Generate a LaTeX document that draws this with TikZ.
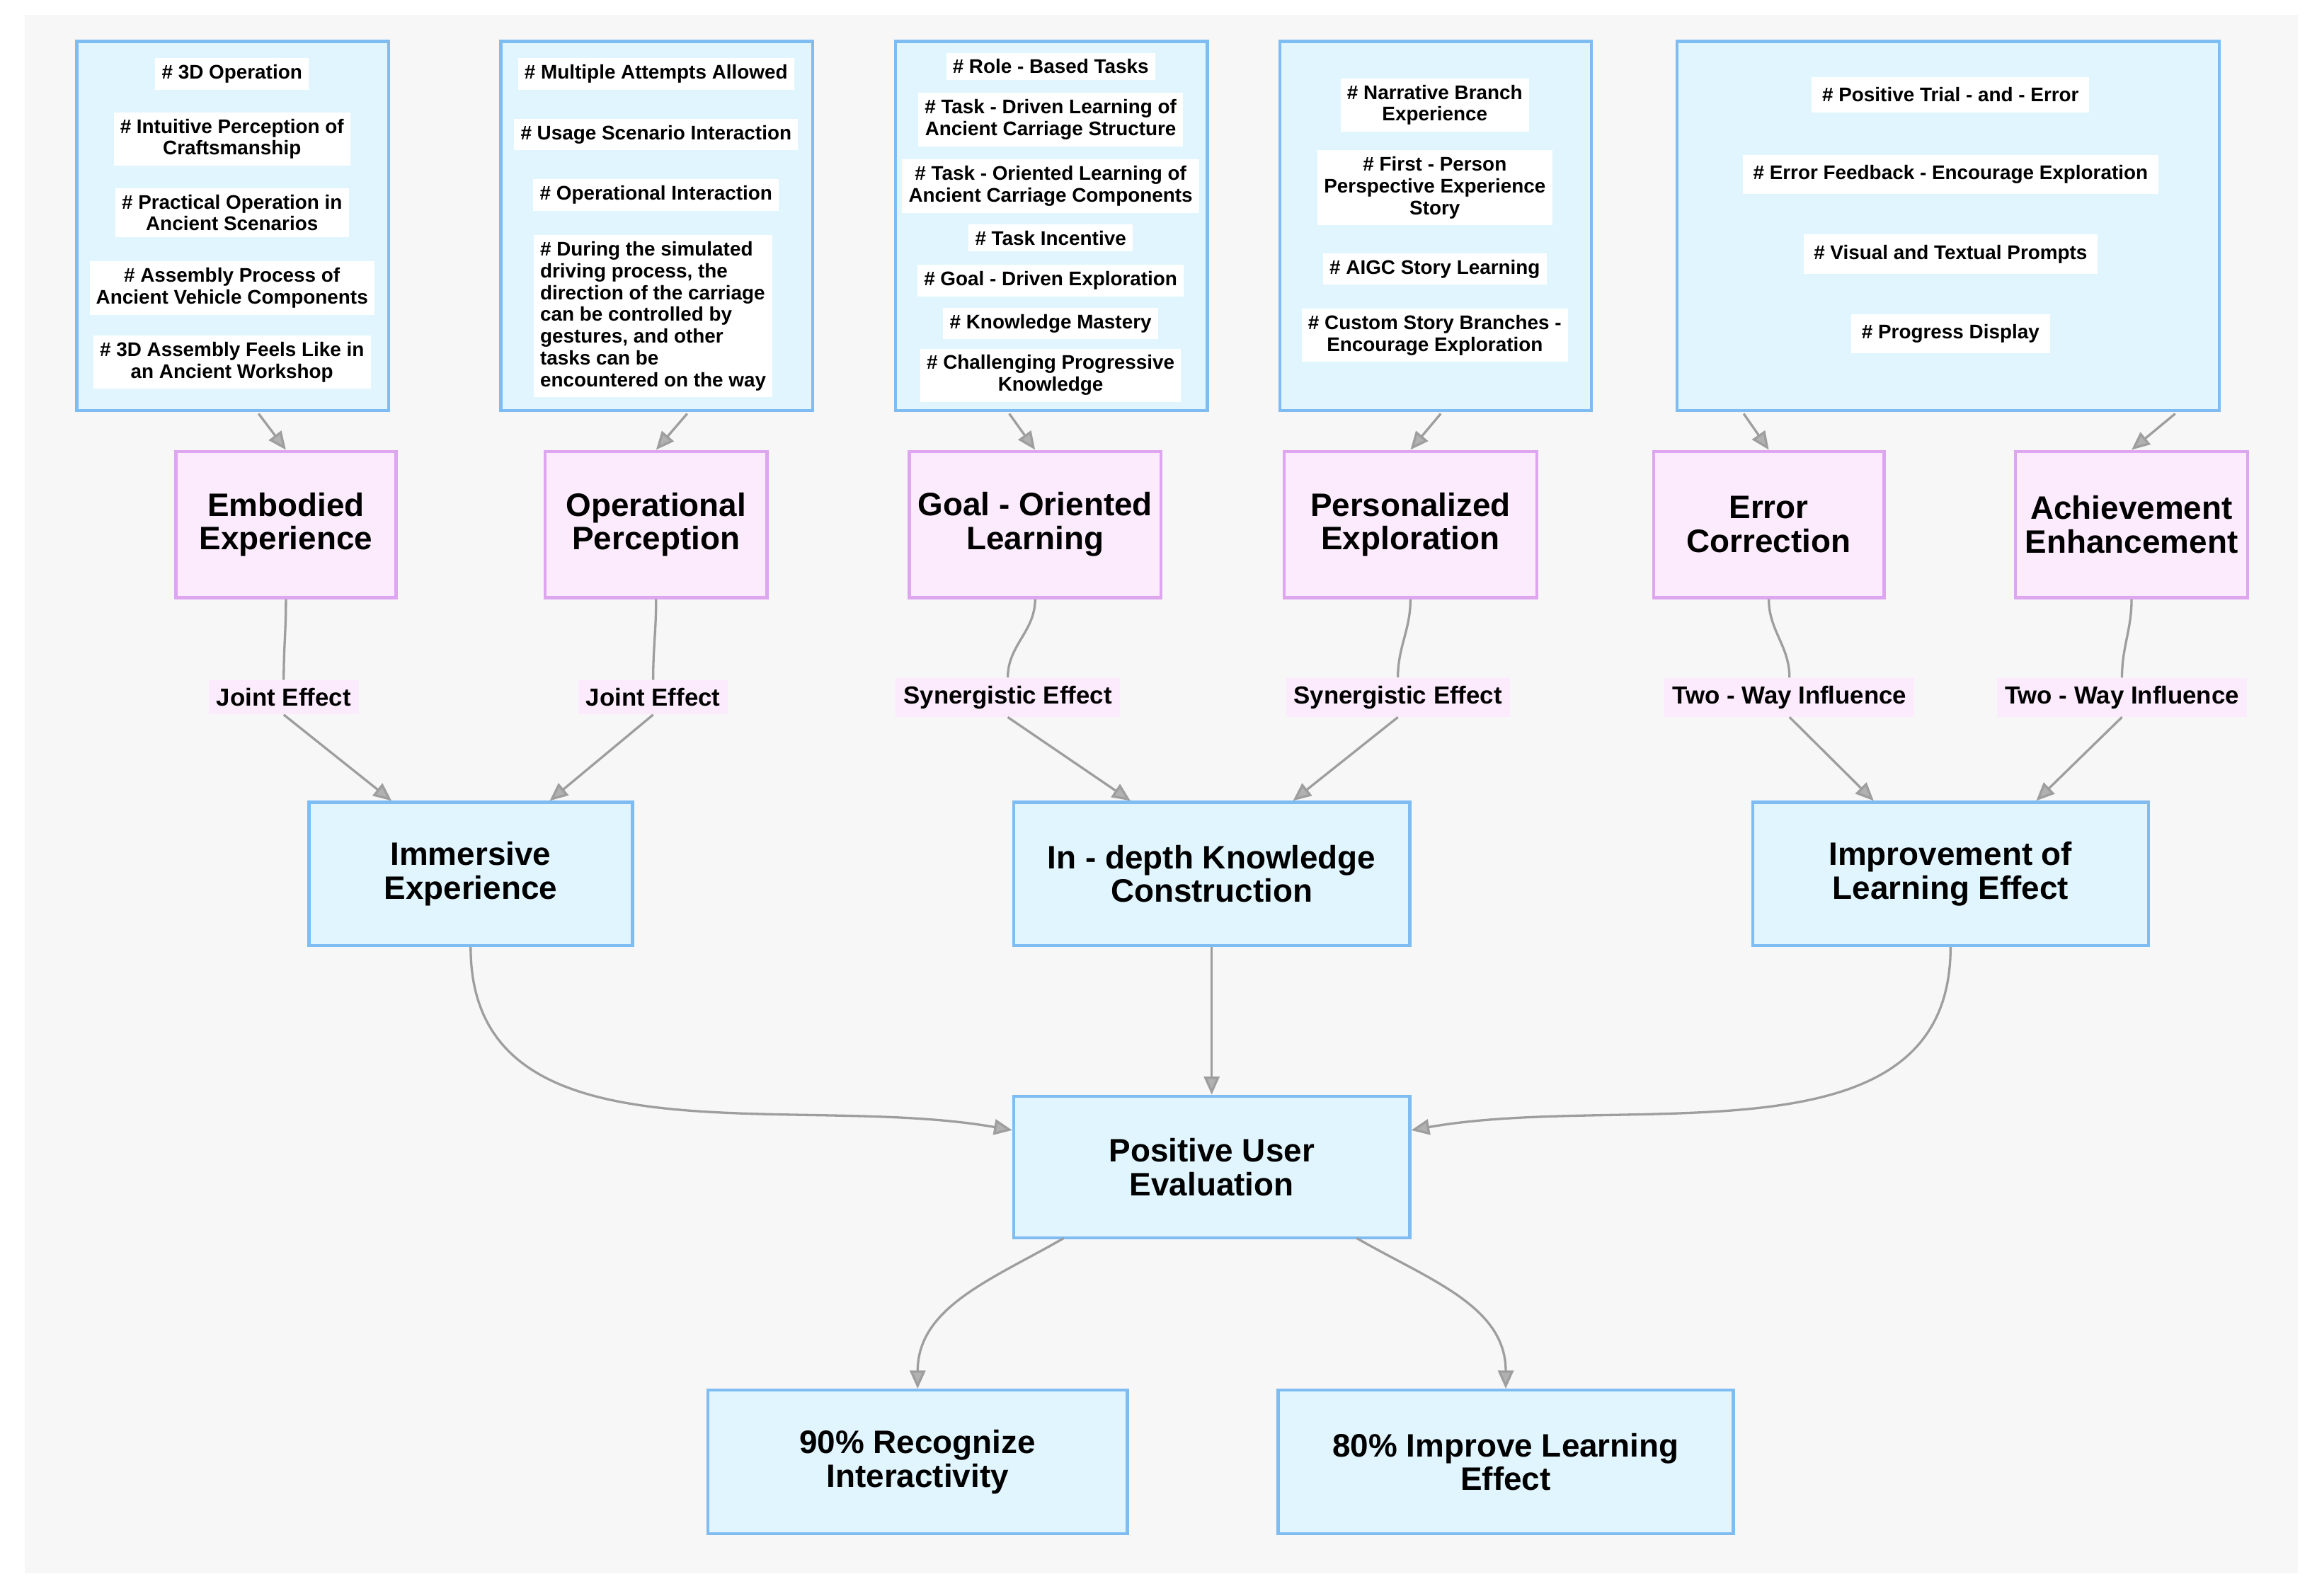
\documentclass[tikz,border=0pt]{standalone}
\usepackage{fontspec}
\setmainfont{Liberation Sans}
\usetikzlibrary{arrows.meta,positioning}
\definecolor{boxblue}{HTML}{E1F5FE}
\definecolor{lineblue}{HTML}{7EBCF2}
\definecolor{boxpink}{HTML}{FBEBFC}
\definecolor{linepink}{HTML}{DDA6EE}
\definecolor{arrowgray}{HTML}{9E9E9E}
\tikzset{
  group/.style={draw=lineblue, fill=boxblue, line width=1.2pt},
  item/.style={fill=white, inner sep=2.5pt, align=center, font=\fontsize{7.6}{8.4}\selectfont\bfseries},
  factor/.style={draw=linepink, fill=boxpink, line width=1.2pt, minimum height=1.98cm, align=center, font=\fontsize{12.5}{13}\selectfont\bfseries},
  result/.style={draw=lineblue, fill=boxblue, line width=1.2pt, minimum height=1.94cm, align=center, font=\fontsize{12.5}{13}\selectfont\bfseries},
  effect/.style={fill=boxpink, inner sep=3pt, font=\fontsize{9.5}{10}\selectfont\bfseries},
  link/.style={arrowgray, line width=0.9pt},
  arr/.style={link, -{Triangle[length=7pt,width=6pt,fill=arrowgray!80]}},
}
\begin{document}
\begin{tikzpicture}[x=0.02cm, y=-0.02cm]
  \useasboundingbox (0,0) rectangle (1568,1080);
  \fill[gray!6] (17,10) rectangle (1555,1065);
  % feature groups
  \node[group, minimum width=4.22cm, minimum height=5cm] (g1) at (157.5,153) {};
  \node[group, minimum width=4.22cm, minimum height=5cm] (g2) at (444.5,153) {};
  \node[group, minimum width=4.22cm, minimum height=5cm] (g3) at (711.5,153) {};
  \node[group, minimum width=4.22cm, minimum height=5cm] (g4) at (971.5,153) {};
  \node[group, minimum width=7.34cm, minimum height=5cm] (g5) at (1318.5,153) {};
  \foreach \i/\y/\t in {a/50/{\# 3D Operation}, b/94/{\# Intuitive Perception of\\Craftsmanship},
      c/144/{\# Practical Operation in\\Ancient Scenarios}, d/195/{\# Assembly Process of\\Ancient Vehicle Components},
      e/245/{\# 3D Assembly Feels Like in\\an Ancient Workshop}}
    \node[item] (g1\i) at (157,\y) {\t};
  \foreach \i/\y/\t in {a/50/{\# Multiple Attempts Allowed}, b/91/{\# Usage Scenario Interaction},
      c/132/{\# Operational Interaction}}
    \node[item] (g2\i) at (444,\y) {\t};
  \node[item, align=left] (g2d) at (442,214) {\# During the simulated\\driving process, the\\direction of the carriage\\can be controlled by\\gestures, and other\\tasks can be\\encountered on the way};
  \foreach \i/\y/\t in {a/45/{\# Role - Based Tasks}, b/81/{\# Task - Driven Learning of\\Ancient Carriage Structure},
      c/126/{\# Task - Oriented Learning of\\Ancient Carriage Components}, d/161/{\# Task Incentive},
      e/190/{\# Goal - Driven Exploration}, f/219/{\# Knowledge Mastery},
      g/254/{\# Challenging Progressive\\Knowledge}}
    \node[item] (g3\i) at (711,\y) {\t};
  \foreach \i/\y/\t in {a/71/{\# Narrative Branch\\Experience}, b/127/{\# First - Person\\Perspective Experience\\Story},
      c/182/{\# AIGC Story Learning}, d/227/{\# Custom Story Branches -\\Encourage Exploration}}
    \node[item] (g4\i) at (971,\y) {\t};
  \foreach \i/\y/\t in {a/64/{\# Positive Trial - and - Error}, b/118/{\# Error Feedback - Encourage Exploration},
      c/172/{\# Visual and Textual Prompts}, d/226/{\# Progress Display}}
    \node[item, inner sep=4pt] (g5\i) at (1320,\y) {\t};
  % factors
  \node[factor, minimum width=2.98cm] (emb) at (193.5,355) {Embodied\\Experience};
  \node[factor, minimum width=3.0cm] (opp) at (444,355) {Operational\\Perception};
  \node[factor, minimum width=3.26cm] (goal) at (700.5,355) {Goal - Oriented\\Learning};
  \node[factor, minimum width=3.42cm] (pers) at (954.5,355) {Personalized\\Exploration};
  \node[factor, minimum width=3.12cm] (err) at (1197,355) {Error\\Correction};
  \node[factor, minimum width=3.14cm] (ach) at (1442.5,355) {Achievement\\Enhancement};
  \coordinate (g1o) at (175,280); \coordinate (g2o) at (465,280);
  \coordinate (g3o) at (683,280); \coordinate (g4o) at (975,280);
  \coordinate (g5o) at (1180,280); \coordinate (g5p) at (1472,280);
  \draw[arr] (g1o) -- (emb.north);
  \draw[arr] (g2o) -- (opp.north);
  \draw[arr] (g3o) -- (goal.north);
  \draw[arr] (g4o) -- (pers.north);
  \draw[arr] (g5o) -- (err.north);
  \draw[arr] (g5p) -- (ach.north);
  % outcomes
  \node[result, minimum width=4.38cm] (imm) at (318.5,591.5) {Immersive\\Experience};
  \node[result, minimum width=5.36cm] (know) at (820,591.5) {In - depth Knowledge\\Construction};
  \node[result, minimum width=5.36cm] (impr) at (1320,591.5) {Improvement of\\Learning Effect};
  \node[result, minimum width=5.36cm, minimum height=1.92cm] (eval) at (820,790) {Positive User\\Evaluation};
  \node[result, minimum width=5.68cm] (rec) at (621,989.5) {90\% Recognize\\Interactivity};
  \node[result, minimum width=6.16cm] (imp) at (1019,989.5) {80\% Improve Learning\\Effect};
  % effects
  \foreach \f/\l/\x/\t/\tx in {emb/e1/192/{Joint Effect}/265, opp/e2/442/{Joint Effect}/372,
      goal/e3/682/{Synergistic Effect}/765, pers/e4/946/{Synergistic Effect}/875,
      err/e5/1211/{Two - Way Influence}/1268, ach/e6/1436/{Two - Way Influence}/1378} {
    \node[effect] (\l) at (\x,472) {\t};
    \coordinate (\l t) at (\tx,542);
    \draw[link] (\f.south) to[out=-90,in=90] (\l.north);
    \draw[arr] (\l.south) -- (\l t);
  }
  \draw[link] (imm.north) ++(0,0); % keep
  \draw[arr] (imm.south) to[out=-90,in=170] (eval.west |- 0,765);
  \draw[arr] (know.south) -- (eval.north);
  \draw[arr] (impr.south) to[out=-90,in=10] (eval.east |- 0,765);
  \coordinate (evl) at (720,838); \coordinate (evr) at (918,838);
  \draw[arr] (evl) to[out=-150,in=90] (rec.north);
  \draw[arr] (evr) to[out=-30,in=90] (imp.north);
\end{tikzpicture}
\end{document}
